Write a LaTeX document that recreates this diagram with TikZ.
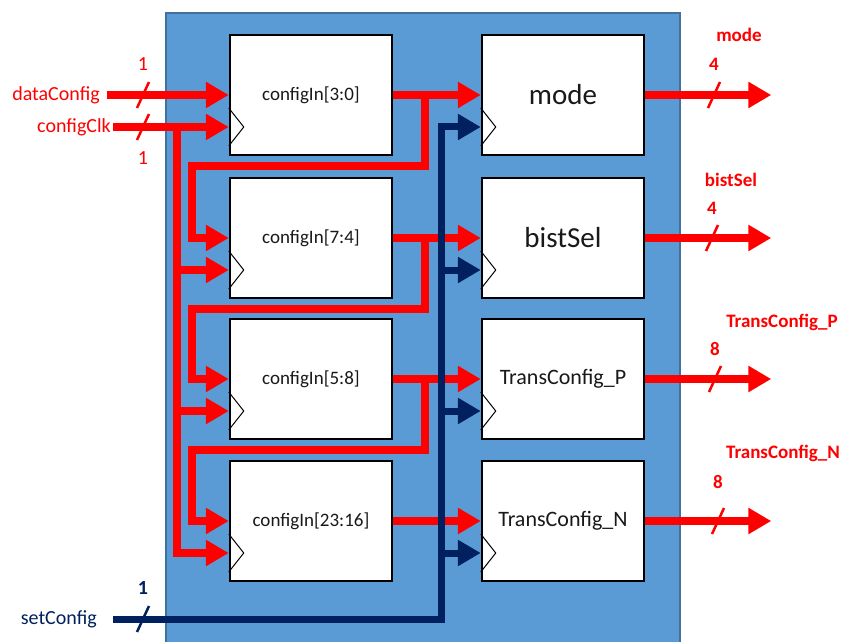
\documentclass[tikz,border=0pt]{standalone}
\usepackage{fontspec}
\setmainfont{Carlito}
\usetikzlibrary{arrows.meta, positioning}

\definecolor{cfgblue}{HTML}{5B9BD5}
\definecolor{cfgedge}{HTML}{41719C}
\definecolor{navy}{HTML}{002060}

\begin{document}
\begin{tikzpicture}[
	x=1pt, y=1pt,
	reg/.style={draw=black, fill=white, line width=2.5pt, minimum width=162pt, minimum height=120pt, inner sep=0pt, text=black!90},
	redwire/.style={draw=red, line width=8pt},
	navywire/.style={draw=navy, line width=7pt},
	tip/.style={-{Triangle[length=23pt, width=25pt]}},
	sig/.style={font=\fontsize{20}{24}\selectfont, anchor=east, inner ysep=0pt},
	num/.style={font=\fontsize{20}{24}\selectfont, text=red},
	outlbl/.style={font=\bfseries\fontsize{19}{23}\selectfont, text=red}
]

\useasboundingbox (0,0) rectangle (843,641);
\draw[fill=cfgblue, draw=cfgedge, line width=1.2pt] (166,-5) rectangle (680,628);

% shift registers and config registers
\foreach \n/\y/\t in {cfg1/546/{configIn[3:0]}, cfg2/403/{configIn[7:4]}, cfg3/262/{configIn[5:8]}, cfg4/120/{configIn[23:16]}} {
	\node[reg, font=\fontsize{19}{23}\selectfont] (\n) at (311,\y) {\t};
}
\node[reg, font=\fontsize{29}{34}\selectfont] (mode) at (563,546) {mode};
\node[reg, font=\fontsize{29}{34}\selectfont] (bistSel) at (563,403) {bistSel};
\node[reg, font=\fontsize{22}{26}\selectfont] (transP) at (563,262) {TransConfig\_P};
\node[reg, font=\fontsize{22}{26}\selectfont] (transN) at (563,120) {TransConfig\_N};

% inputs
\node[sig, text=red, inner xsep=7pt] (dataConfig) at (107,546) {dataConfig};
\node[sig, text=red, inner xsep=2pt] (configClk) at (113,514) {configClk};
\node[sig, text=navy, inner xsep=16pt] (setConfig) at (113,22) {setConfig};

\foreach \n in {cfg1,cfg2,cfg3,cfg4,mode,bistSel,transP,transN} {
	\coordinate (\n-ck) at ([yshift=-32pt]\n.west);
}

% data chain
\draw[redwire, tip] (dataConfig.east) -- (cfg1.west);
\foreach \a/\b in {cfg1/mode, cfg2/bistSel, cfg3/transP, cfg4/transN}
	\draw[redwire, tip] (\a.east) -- (\b.west);
\foreach \a/\b/\d in {cfg1/cfg2/475, cfg2/cfg3/332, cfg3/cfg4/191}
	\draw[redwire, tip] ([xshift=32pt]\a.east) |- (192,\d) |- (\b.west);

% clock
\coordinate (ckbus) at (177,514);
\draw[redwire, tip] (configClk.east) -- (cfg1-ck);
\draw[redwire, tip] (ckbus) |- (cfg4-ck);
\foreach \n in {cfg2,cfg3}
	\draw[redwire, tip] (ckbus |- \n-ck) -- (\n-ck);

% load
\coordinate (scbus) at (441,22);
\draw[navywire, tip] (setConfig.east) -- (scbus) |- (mode-ck);
\foreach \n in {bistSel,transP,transN}
	\draw[navywire, tip] (scbus |- \n-ck) -- (\n-ck);

% outputs
\foreach \n in {mode,bistSel,transP,transN} {
	\coordinate (\n-o) at ([xshift=126pt]\n.east);
	\draw[redwire, tip] (\n.east) -- (\n-o);
}

% clock marks
\foreach \n in {cfg1,cfg2,cfg3,cfg4,mode,bistSel,transP,transN}
	\draw[line width=1pt] ([yshift=-13pt]\n.west) -- ++(15,-19) -- ++(-15,-19);

% bus widths
\foreach \x/\y/\c in {143/546/red, 143/514/red, 143/22/navy, 714/546/red, 712/403/red, 715/262/red, 718/120/red}
	\draw[\c, line width=2.5pt] (\x,\y) ++(-6,-13) -- ++(12,26);

\node[num] (w1) at (143,577) {1};
\node[num] (w2) at (143,483) {1};
\node[num, text=navy, font=\bfseries\fontsize{20}{24}\selectfont] (w3) at (143,53) {1};
\node[outlbl] (w4) at (714,577) {4};
\node[outlbl] (w5) at (712,433) {4};
\node[outlbl] (w6) at (715,292) {8};
\node[outlbl] (w7) at (718,159) {8};

\node[outlbl] (modeL) at (739,606) {mode};
\node[outlbl] (bistSelL) at (731,461) {bistSel};
\node[outlbl] (transPL) at (782,319) {TransConfig\_P};
\node[outlbl] (transNL) at (783,188) {TransConfig\_N};

\end{tikzpicture}
\end{document}
